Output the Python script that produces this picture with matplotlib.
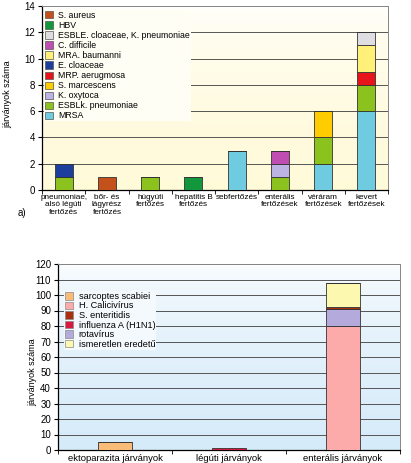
import numpy as np
import matplotlib
matplotlib.use("Agg")
import matplotlib.pyplot as plt
from matplotlib.colors import LinearSegmentedColormap
from matplotlib.patches import Patch

plt.rcParams["font.family"] = ["Liberation Sans", "DejaVu Sans"]

# top chart (a): outbreaks by infection type
top_cats = ["pneumoniae,\nalsó légúti\nfertőzés", "bőr- és\nlágyrész\nfertőzés", "húgyúti\nfertőzés",
            "hepatitis B\nfertőzés", "sebfertőzés", "enterális\nfertőzések", "véráram\nfertőzések",
            "kevert\nfertőzések"]
# stacking order, bottom first
mrsa        = [0, 0, 0, 0, 3, 0, 2, 6]
esblk_pneum = [1, 0, 1, 0, 0, 1, 2, 2]
k_oxytoca   = [0, 0, 0, 0, 0, 1, 0, 0]
s_marcesc   = [0, 0, 0, 0, 0, 0, 2, 0]
mrp_aerug   = [0, 0, 0, 0, 0, 0, 0, 1]
e_cloaceae  = [1, 0, 0, 0, 0, 0, 0, 0]
mra_bauman  = [0, 0, 0, 0, 0, 0, 0, 2]
c_difficile = [0, 0, 0, 0, 0, 1, 0, 0]
esble       = [0, 0, 0, 0, 0, 0, 0, 1]
hbv         = [0, 0, 0, 1, 0, 0, 0, 0]
s_aureus    = [0, 1, 0, 0, 0, 0, 0, 0]

top_series = [
    ("MRSA", mrsa, "#6fcbe0"),
    ("ESBLk. pneumoniae", esblk_pneum, "#8cc21e"),
    ("K. oxytoca", k_oxytoca, "#bcb4e2"),
    ("S. marcescens", s_marcesc, "#ffcc00"),
    ("MRP. aerugmosa", mrp_aerug, "#e8141c"),
    ("E. cloaceae", e_cloaceae, "#1c3f9e"),
    ("MRA. baumanni", mra_bauman, "#fff07a"),
    ("C. difficile", c_difficile, "#c04db2"),
    ("ESBLE. cloaceae, K. pneumoniae", esble, "#dedee2"),
    ("HBV", hbv, "#13973c"),
    ("S. aureus", s_aureus, "#c4501c"),
]

# bottom chart: outbreaks
bot_cats = ["ektoparazita járványok", "légúti járványok", "enterális járványok"]
calici     = [0, 0, 80]
rotavirus  = [0, 0, 11]
s_enterit  = [0, 0, 1.5]
ismeretlen = [0, 0, 15]
sarcoptes  = [5, 0, 0]
influenza  = [0, 1.5, 0]

bot_series = [
    ("H. Calicivírus", calici, "#fcaaaa"),
    ("rotavírus", rotavirus, "#b4aadc"),
    ("S. enteritidis", s_enterit, "#a8300e"),
    ("ismeretlen eredetű", ismeretlen, "#fdf8b0"),
    ("sarcoptes scabiei", sarcoptes, "#f8bc78"),
    ("influenza A (H1N1)", influenza, "#d81a40"),
]
bot_legend = ["sarcoptes scabiei", "H. Calicivírus", "S. enteritidis",
              "influenza A (H1N1)", "rotavírus", "ismeretlen eredetű"]

fig = plt.figure(figsize=(4.11, 4.63), dpi=100)
fig.patch.set_facecolor("white")
W, H = 411, 463


def ax_rect(x0, y_top, x1, y_bot):
    return [x0 / W, 1 - y_bot / H, (x1 - x0) / W, (y_bot - y_top) / H]


def gradient(ax, color):
    # white at the top, tinted towards the bottom
    cmap = LinearSegmentedColormap.from_list("g", ["white", color])
    grad = np.sqrt(np.linspace(0, 1, 256)).reshape(-1, 1)
    ax.imshow(grad, extent=[0, 1, 0, 1], transform=ax.transAxes, aspect="auto",
              cmap=cmap, zorder=0, vmin=0, vmax=1)


def style(ax, n):
    for s in ["top", "right"]:
        ax.spines[s].set_color("#888888")
        ax.spines[s].set_linewidth(0.7)
    for s in ["left", "bottom"]:
        ax.spines[s].set_color("black")
        ax.spines[s].set_linewidth(0.9)
    ax.set_xlim(-0.5, n - 0.5)
    ax.set_xticks(np.arange(n))
    ax.set_xticks(np.arange(n + 1) - 0.5, minor=True)
    ax.tick_params(axis="x", which="major", length=0, pad=3)
    ax.tick_params(axis="x", which="minor", length=3, direction="out", color="black")
    ax.tick_params(axis="y", length=3, direction="out", labelsize=7, pad=2)
    ax.yaxis.grid(True, color="#555555", linewidth=0.7, zorder=1)
    ax.set_axisbelow(True)


# ---- top chart
ax1 = fig.add_axes(ax_rect(42, 6, 388, 190))
gradient(ax1, "#fffad8")
x1 = np.arange(len(top_cats))
bottom = np.zeros(len(top_cats))
for name, vals, col in top_series:
    ax1.bar(x1, vals, 0.42, bottom=bottom, color=col, edgecolor="#333333",
            linewidth=0.6, zorder=3)
    bottom += np.array(vals)
style(ax1, len(top_cats))
ax1.set_ylim(0, 14)
ax1.set_yticks(range(0, 15, 2))
ax1.set_xticklabels(top_cats, fontsize=5.9, linespacing=1.05)
ax1.set_ylabel("járványok száma", fontsize=6.5)
ax1.yaxis.set_label_coords(-0.085, 0.52)

handles = [Patch(facecolor=c, edgecolor="#555555", linewidth=0.5, label=n)
           for n, v, c in top_series][::-1]
leg1 = ax1.legend(handles=handles, loc="upper left", bbox_to_anchor=(44 / W, 1 - 10 / H),
                  bbox_transform=fig.transFigure, frameon=True, fontsize=6.3,
                  labelspacing=0.12, handlelength=0.9, handleheight=0.9,
                  handletextpad=0.6, borderpad=0.1, borderaxespad=0)
leg1.get_frame().set_facecolor("#fffef4")
leg1.get_frame().set_edgecolor("none")
leg1.get_frame().set_alpha(1)
leg1.set_zorder(4)
fig.text(18 / W, 1 - 213 / H, "a)", fontsize=7, ha="left", va="center")

# ---- bottom chart
ax2 = fig.add_axes(ax_rect(58, 264, 400, 450))
gradient(ax2, "#d6ebf9")
x2 = np.arange(len(bot_cats))
bottom = np.zeros(len(bot_cats))
for name, vals, col in bot_series:
    ax2.bar(x2, vals, 0.3, bottom=bottom, color=col, edgecolor="#333333",
            linewidth=0.6, zorder=3)
    bottom += np.array(vals)
style(ax2, len(bot_cats))
ax2.set_ylim(0, 120)
ax2.set_yticks(range(0, 121, 10))
ax2.set_xticklabels(bot_cats, fontsize=6.8)
ax2.set_ylabel("járványok száma", fontsize=6.5)
ax2.yaxis.set_label_coords(-0.06, 0.42)

cols = {n: c for n, v, c in bot_series}
handles2 = [Patch(facecolor=cols[n], edgecolor="#888888", linewidth=0.5, label=n)
            for n in bot_legend]
leg2 = ax2.legend(handles=handles2, loc="upper left", bbox_to_anchor=(64 / W, 1 - 291 / H),
                  bbox_transform=fig.transFigure, frameon=True, fontsize=6.6,
                  labelspacing=0.06, handlelength=0.9, handleheight=0.9,
                  handletextpad=0.6, borderpad=0.1, borderaxespad=0)
leg2.get_frame().set_facecolor("#f4f9fd")
leg2.get_frame().set_edgecolor("none")
leg2.get_frame().set_alpha(1)
leg2.set_zorder(4)

fig.savefig("out.png", dpi=100)
